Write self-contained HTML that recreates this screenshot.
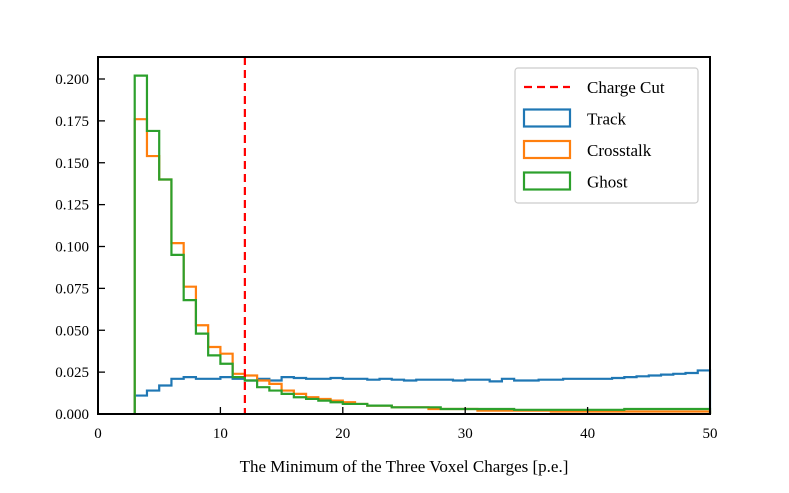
<!DOCTYPE html>
<html><head><meta charset="utf-8"><style>
body{margin:0;background:#fff}
svg text{font-family:"Liberation Serif",serif;fill:#000}
</style></head><body>
<svg id="chart" width="789" height="488" viewBox="0 0 789 488"></svg>
<script>
const binEdgesStart = 3;
const track = [0.011,0.014,0.017,0.021,0.022,0.021,0.021,0.022,0.021,0.020,0.021,0.020,0.022,0.0215,0.021,0.021,0.0215,0.021,0.021,0.0205,0.021,0.0205,0.020,0.0205,0.0205,0.0205,0.020,0.0205,0.0205,0.0195,0.021,0.020,0.020,0.0205,0.0205,0.021,0.021,0.021,0.021,0.0215,0.022,0.0225,0.023,0.0235,0.024,0.0245,0.026];
const crosstalk = [0.176,0.154,0.140,0.102,0.076,0.053,0.040,0.036,0.024,0.023,0.020,0.018,0.014,0.012,0.010,0.009,0.008,0.007,0.006,0.005,0.005,0.004,0.004,0.004,0.003,0.003,0.003,0.003,0.002,0.002,0.002,0.002,0.002,0.002,0.0015,0.0015,0.0015,0.0015,0.0015,0.0015,0.0015,0.0015,0.0015,0.0015,0.0015,0.0015,0.0015];
const ghost = [0.202,0.169,0.140,0.095,0.068,0.048,0.035,0.030,0.022,0.020,0.016,0.014,0.012,0.010,0.009,0.008,0.007,0.006,0.006,0.005,0.005,0.004,0.004,0.004,0.004,0.003,0.003,0.003,0.003,0.003,0.003,0.0025,0.0025,0.0025,0.0025,0.0025,0.0025,0.0025,0.0025,0.0025,0.003,0.003,0.003,0.003,0.003,0.003,0.003];
const xTicks = [0,10,20,30,40,50];
const yTicks = [0,0.025,0.05,0.075,0.1,0.125,0.15,0.175,0.2];
const chargeCut = 12;
const L=98,R=710,T=57,B=414;
const X=v=>L+(v-0)/50*(R-L);
const Y=v=>B-v/0.2*(B-79);
const NS="http://www.w3.org/2000/svg";
const svg=document.getElementById('chart');
function mk(t,a,p){const e=document.createElementNS(NS,t);for(const k in a)e.setAttribute(k,a[k]);(p||svg).appendChild(e);return e;}
function step(vals,color,name){
  let d=`M${X(binEdgesStart)},${Y(0)}`;
  vals.forEach((v,i)=>{d+=` L${X(binEdgesStart+i)},${Y(v)} L${X(binEdgesStart+i+1)},${Y(v)}`;});
  d+=` L${X(binEdgesStart+vals.length)},${Y(0)}`;
  const p=mk('path',{d,fill:'none',stroke:color,'stroke-width':2.2});
  
  
}
step(track,'#1f77b4','track-series');
step(crosstalk,'#ff7f0e','crosstalk-series');
step(ghost,'#2ca02c','ghost-series');
const cut=mk('line',{x1:X(chargeCut),x2:X(chargeCut),y1:T,y2:B,stroke:'#ff0000','stroke-width':2.2,'stroke-dasharray':'8,5'});


const frame=mk('rect',{x:L,y:T,width:R-L,height:B-T,fill:'none',stroke:'#000','stroke-width':2});


xTicks.forEach(t=>{
  mk('line',{x1:X(t),x2:X(t),y1:B,y2:B-7,stroke:'#000','stroke-width':1.3});
  const tx=mk('text',{x:X(t),y:B+24,'text-anchor':'middle','font-size':15});
  tx.textContent=t;
  
  
});
yTicks.forEach(t=>{
  mk('line',{x1:L,x2:L+7,y1:Y(t),y2:Y(t),stroke:'#000','stroke-width':1.3});
  const tx=mk('text',{x:L-9,y:Y(t)+5,'text-anchor':'end','font-size':15});
  tx.textContent=t.toFixed(3);
  
  
});
const xt=mk('text',{x:(L+R)/2,y:472,'text-anchor':'middle','font-size':17});
xt.textContent='The Minimum of the Three Voxel Charges [p.e.]';


const lg=mk('g',{});


mk('rect',{x:515,y:68,width:183,height:135,rx:3,fill:'#fff',stroke:'#ccc','stroke-width':1.2},lg);
const entries=[['Charge Cut','#ff0000',true],['Track','#1f77b4',false],['Crosstalk','#ff7f0e',false],['Ghost','#2ca02c',false]];
entries.forEach((e,i)=>{
  const y=87+i*31.5;
  const g=mk('g',{},lg);
  
  
  if(e[2]) mk('line',{x1:524,x2:570,y1:y,y2:y,stroke:e[1],'stroke-width':2.2,'stroke-dasharray':'8,5'},g);
  else mk('rect',{x:524,y:y-9,width:46,height:17,fill:'none',stroke:e[1],'stroke-width':2.2},g);
  const t=mk('text',{x:587,y:y+6,'font-size':17},g);
  t.textContent=e[0];
});
</script>
</body></html>
